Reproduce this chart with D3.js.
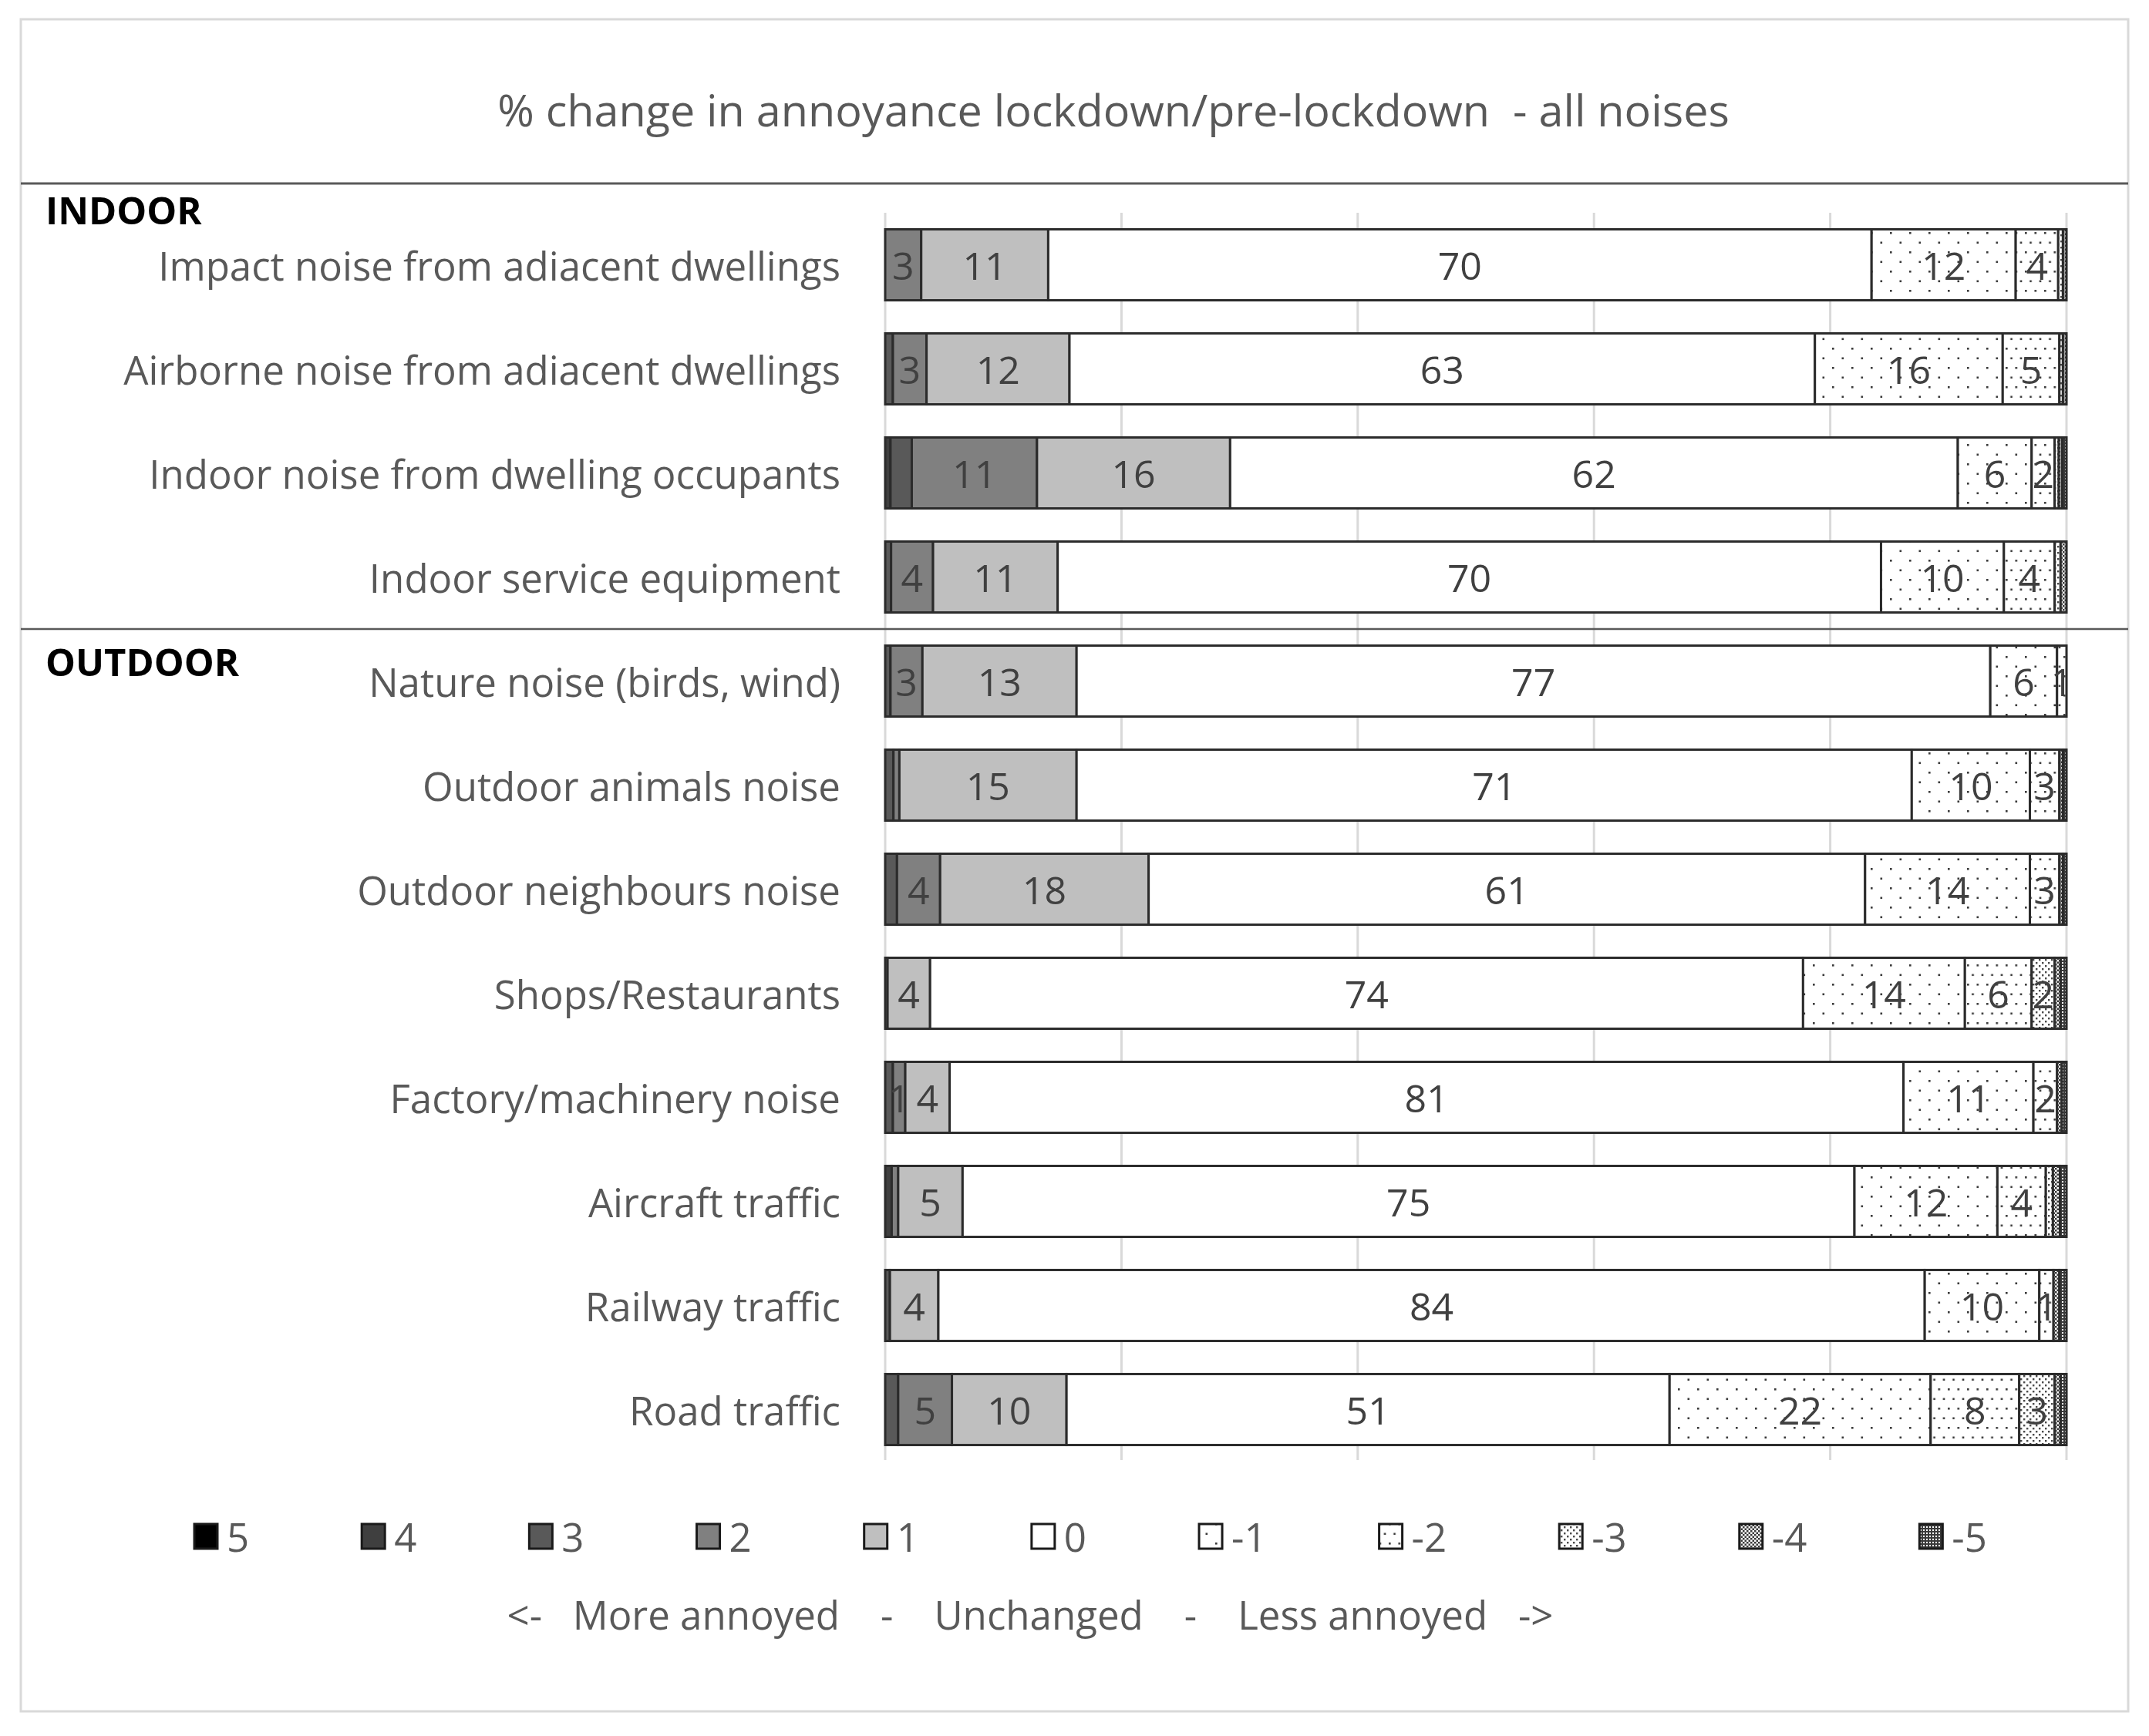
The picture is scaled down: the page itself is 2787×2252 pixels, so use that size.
<!DOCTYPE html>
<html><head><meta charset="utf-8">
<script src="https://cdn.jsdelivr.net/npm/d3@7/dist/d3.min.js"></script>
<style>body{margin:0;background:#fff} text{font-family:"Open Sans",sans-serif}</style>
</head><body><svg id="c" width="2787" height="2252"></svg>
<script>
const chartTitle = "% change in annoyance lockdown/pre-lockdown  - all noises";
const axisNote = "<-   More annoyed    -    Unchanged    -    Less annoyed   ->";
const categories = [
  "Impact noise from adiacent dwellings",
  "Airborne noise from adiacent dwellings",
  "Indoor noise from dwelling occupants",
  "Indoor service equipment",
  "Nature noise (birds, wind)",
  "Outdoor animals noise",
  "Outdoor neighbours noise",
  "Shops/Restaurants",
  "Factory/machinery noise",
  "Aircraft traffic",
  "Railway traffic",
  "Road traffic"
];
const groupNames = ["INDOOR", "OUTDOOR"];
const groupStart = [0, 4];
const seriesKeys = ["5","4","3","2","1","0","-1","-2","-3","-4","-5"];
// values per category, in seriesKeys order (% of respondents)
const values = [
  [0, 0,    0,    3.05, 10.75, 69.7,  12.2, 3.6,  0.4,  0.3, 0],
  [0, 0,    0.65, 2.85, 12.1,  63.1,  15.9, 4.8,  0.3,  0.3, 0],
  [0, 0.45, 1.8,  10.6, 16.35, 61.6,  6.25, 1.95, 0.35, 0.3, 0.35],
  [0, 0,    0.5,  3.55, 10.55, 69.7,  10.4, 4.3,  0.5,  0.5, 0],
  [0, 0,    0.45, 2.7,  13.05, 77.35, 5.65, 0.8,  0,    0,   0],
  [0, 0,    0.7,  0.5,  15.0,  70.7,  10.0, 2.5,  0,    0.3, 0.3],
  [0, 0,    1.0,  3.65, 17.65, 60.65, 13.95,2.5,  0,    0.3, 0.3],
  [0, 0,    0,    0.2,  3.6,   73.9,  13.7, 5.65, 1.95, 0.5, 0.5],
  [0, 0,    0.65, 1.05, 3.75,  80.75, 11.0, 2.0,  0,    0.4, 0.4],
  [0, 0.55, 0,    0.55, 5.45,  75.5,  12.1, 4.1,  0.6,  0.6, 0.55],
  [0, 0,    0.4,  0,    4.1,   83.5,  9.7,  1.2,  0,    0.5, 0.6],
  [0, 0,    1.1,  4.55, 9.7,   51.05, 22.1, 7.5,  3.0,  0.5, 0.5]
];
// data labels shown on the chart (null = no label)
const labels = [
  [null,null,null,"3","11","70","12","4",null,null,null],
  [null,null,null,"3","12","63","16","5",null,null,null],
  [null,null,null,"11","16","62","6","2",null,null,null],
  [null,null,null,"4","11","70","10","4",null,null,null],
  [null,null,null,"3","13","77","6","1",null,null,null],
  [null,null,null,null,"15","71","10","3",null,null,null],
  [null,null,null,"4","18","61","14","3",null,null,null],
  [null,null,null,null,"4","74","14","6","2",null,null],
  [null,null,null,"1","4","81","11","2",null,null,null],
  [null,null,null,null,"5","75","12","4",null,null,null],
  [null,null,null,null,"4","84","10","1",null,null,null],
  [null,null,null,"5","10","51","22","8","3",null,null]
];
const xTicks = [0, 20, 40, 60, 80, 100];

const svg = d3.select("#c");
const defs = svg.append("defs");
function dotPattern(id, w, h, pts, r, col) {
  const p = defs.append("pattern").attr("id", id).attr("patternUnits", "userSpaceOnUse")
    .attr("width", w).attr("height", h);
  p.append("rect").attr("width", w).attr("height", h).attr("fill", "#fff");
  pts.forEach(([px, py]) => p.append("rect").attr("x", px).attr("y", py)
    .attr("width", r).attr("height", r).attr("fill", col || "#3a3a3a"));
}
dotPattern("pm1", 25, 25, [[1,1],[13.5,13.5]], 2.6);
dotPattern("pm2", 12.5, 25, [[1,1],[7.25,13.5]], 2.6);
dotPattern("pm3", 8, 8, [[0,0],[4,4]], 2.4, "#4a4a4a");
dotPattern("pm4", 5, 5, [[0,0],[2.5,2.5]], 2.5);
dotPattern("pm5", 4, 4, [[0,0],[2,2],[0,2]], 2);

const fills = {"5":"#000000","4":"#3f3f3f","3":"#595959","2":"#808080","1":"#bfbfbf","0":"#ffffff",
  "-1":"url(#pm1)","-2":"url(#pm2)","-3":"url(#pm3)","-4":"url(#pm4)","-5":"url(#pm5)"};

// frame
svg.append("rect").attr("x", 27).attr("y", 25).attr("width", 2733).attr("height", 2195)
  .attr("fill", "#fff").attr("stroke", "#d9d9d9").attr("stroke-width", 3);
svg.append("text").attr("x", 1444).attr("y", 142).attr("text-anchor", "middle")
  .attr("dominant-baseline", "central").attr("font-size", 57.5).attr("fill", "#595959")
  .attr("xml:space", "preserve").text(chartTitle);
const titleLineY = 238;
svg.append("line").attr("x1", 27).attr("x2", 2760).attr("y1", titleLineY).attr("y2", titleLineY)
  .attr("stroke", "#595959").attr("stroke-width", 3);

const x = d3.scaleLinear().domain([0, 100]).range([1148, 2680]);
const y = d3.scaleBand().domain(categories).range([276, 1896]).paddingInner(0.318).paddingOuter(0.159);

// gridlines
svg.append("g").selectAll("line").data(xTicks).join("line")
  .attr("x1", d => x(d)).attr("x2", d => x(d)).attr("y1", 276).attr("y2", 1894)
  .attr("stroke", "#d9d9d9").attr("stroke-width", 3);

const rows = categories.map((c, i) => {
  const o = {cat: c};
  seriesKeys.forEach((k, j) => o[k] = values[i][j]);
  return o;
});
const stacked = d3.stack().keys(seriesKeys)(rows);

const gBars = svg.append("g");
stacked.forEach(layer => {
  gBars.selectAll(null).data(layer.filter(d => d[1] - d[0] > 0)).join("rect")
    .attr("x", d => x(d[0])).attr("y", d => y(d.data.cat))
    .attr("width", d => x(d[1]) - x(d[0])).attr("height", y.bandwidth())
    .attr("fill", fills[layer.key]).attr("stroke", "#2b2b2b").attr("stroke-width", 3);
});
const gLab = svg.append("g");
stacked.forEach((layer, j) => {
  layer.forEach((d, i) => {
    const t = labels[i][j];
    if (t == null) return;
    gLab.append("text").attr("x", (x(d[0]) + x(d[1])) / 2)
      .attr("y", y(d.data.cat) + y.bandwidth() / 2)
      .attr("text-anchor", "middle").attr("dominant-baseline", "central")
      .attr("font-size", 50).attr("fill", "#404040").text(t);
  });
});

// category labels
svg.append("g").selectAll("text").data(categories).join("text")
  .attr("x", 1090).attr("y", d => y(d) + y.bandwidth() / 2)
  .attr("text-anchor", "end").attr("dominant-baseline", "central")
  .attr("font-size", 51).attr("fill", "#595959").text(d => d);

// group divider and headings
const divY = (y(categories[groupStart[1] - 1]) + y.bandwidth() + y(categories[groupStart[1]])) / 2;
svg.append("line").attr("x1", 27).attr("x2", 2760).attr("y1", divY).attr("y2", divY)
  .attr("stroke", "#595959").attr("stroke-width", 2.5);
const groupTops = [titleLineY, divY];
groupNames.forEach((g, i) => {
  svg.append("text").attr("x", 59).attr("y", groupTops[i] + (i === 0 ? 34 : 42))
    .attr("dominant-baseline", "central").attr("font-size", 49).attr("font-weight", "bold")
    .attr("fill", "#000").text(g);
});

// legend
const gLeg = svg.append("g");
let lx = 252;
const ly = 1993;
seriesKeys.forEach(k => {
  gLeg.append("rect").attr("x", lx).attr("y", ly - 16).attr("width", 30).attr("height", 32)
    .attr("fill", fills[k]).attr("stroke", "#1a1a1a").attr("stroke-width", 3);
  const t = gLeg.append("text").attr("x", lx + 42).attr("y", ly).attr("dominant-baseline", "central")
    .attr("font-size", 51).attr("fill", "#595959").text(k);
  const w = t.node().getComputedTextLength();
  lx += 42 + w + 146;
});
svg.append("text").attr("x", 1336).attr("y", 2094).attr("text-anchor", "middle")
  .attr("dominant-baseline", "central").attr("font-size", 51).attr("fill", "#595959")
  .attr("xml:space", "preserve").style("white-space", "pre").text(axisNote);
</script></body></html>
